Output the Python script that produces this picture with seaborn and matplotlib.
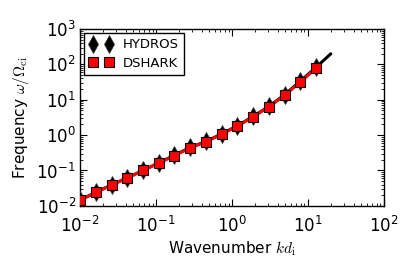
import numpy as np
import pandas as pd
import matplotlib
matplotlib.use("Agg")
import matplotlib.pyplot as plt
import seaborn as sns

# data
k_pts = [0.0100, 0.0161, 0.0260, 0.0419, 0.0675, 0.109, 0.175, 0.283, 0.456,
         0.734, 1.18, 1.91, 3.07, 4.95, 7.98, 12.9]
hydros = [0.0145, 0.024, 0.039, 0.062, 0.100, 0.165, 0.27, 0.45, 0.66,
          1.09, 1.83, 3.4, 6.5, 14.0, 34.0, 84.0]
dshark = [0.0145, 0.024, 0.039, 0.062, 0.100, 0.163, 0.265, 0.44, 0.65,
          1.08, 1.80, 3.35, 6.4, 13.5, 32.0, 80.0]
k_line_black = k_pts + [20.0]
w_line_black = hydros + [200.0]
k_line_red = k_pts + [14.5]
w_line_red = dshark + [100.0]

sns.set_style("ticks")
plt.rcParams['font.family'] = ['DejaVu Sans']
plt.rcParams['mathtext.fontset'] = 'cm'
plt.rcParams['text.color'] = 'black'
plt.rcParams['axes.labelcolor'] = 'black'
plt.rcParams['xtick.color'] = 'black'
plt.rcParams['ytick.color'] = 'black'

fig = plt.figure(figsize=(4.15, 2.77), dpi=100)
ax = fig.add_axes([0.193, 0.257, 0.732, 0.638])

sns.lineplot(x=k_line_black, y=w_line_black, ax=ax, color='black', lw=2.2,
             sort=False, estimator=None, zorder=2)
sns.lineplot(x=k_line_red, y=w_line_red, ax=ax, color='red', lw=2.2,
             sort=False, estimator=None, zorder=3)
ax.plot(k_pts, hydros, linestyle='none', marker='d', ms=9, color='black',
        mec='#333333', mew=0.5, label='HYDROS', zorder=4)
ax.plot(k_pts, dshark, linestyle='none', marker='s', ms=6.5, color='red',
        mec='black', mew=0.8, label='DSHARK', zorder=5)

ax.set_xscale('log')
ax.set_yscale('log')
ax.set_xlim(1e-2, 1e2)
ax.set_ylim(1e-2, 1e3)
ax.set_xlabel(r'Wavenumber $kd_{\rm i}$', fontsize=11, color='black', labelpad=3)
ax.set_ylabel(r'Frequency $\omega/\Omega_{\rm ci}$', fontsize=11, color='black')
ax.tick_params(which='both', top=True, right=True, direction='in',
               labelsize=12, color='black', labelcolor='black')
ax.tick_params(axis='x', which='major', pad=7)
ax.tick_params(axis='y', which='major', pad=3)
ax.tick_params(which='major', length=5, width=0.8)
ax.tick_params(which='minor', length=2.5, width=0.6)
for s in ax.spines.values():
    s.set_visible(True)
    s.set_color('black')
    s.set_linewidth(1.0)

leg = ax.legend(loc='upper left', numpoints=2, fontsize=9.5, frameon=True,
                fancybox=False, handlelength=1.8, borderaxespad=0.3,
                handletextpad=0.7, borderpad=0.4, labelspacing=0.4)
leg.get_frame().set_edgecolor('black')
leg.get_frame().set_linewidth(1.0)
leg.get_frame().set_alpha(1)

fig.savefig('out.png', dpi=100)
